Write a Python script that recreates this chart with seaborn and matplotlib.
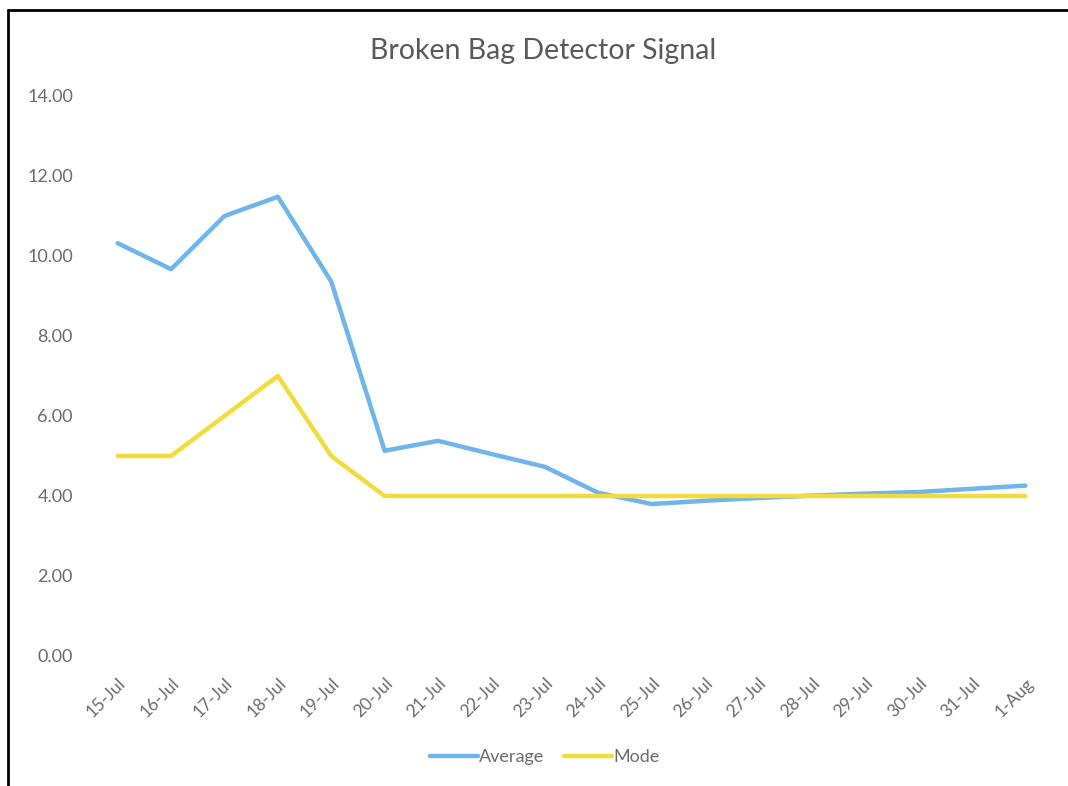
import matplotlib
matplotlib.use("Agg")
import matplotlib.pyplot as plt
import seaborn as sns
import pandas as pd
import numpy as np
from matplotlib.lines import Line2D

dates = ["15-Jul", "16-Jul", "17-Jul", "18-Jul", "19-Jul", "20-Jul", "21-Jul", "22-Jul",
         "23-Jul", "24-Jul", "25-Jul", "26-Jul", "27-Jul", "28-Jul", "29-Jul", "30-Jul",
         "31-Jul", "1-Aug"]
average = [10.32, 9.67, 11.0, 11.48, 9.36, 5.13, 5.38, 5.05, 4.73, 4.08, 3.80, 3.88,
           3.95, 4.01, 4.06, 4.10, 4.18, 4.26]
mode = [5, 5, 6, 7, 5, 4, 4, 4, 4, 4, 4, 4, 4, 4, 4, 4, 4, 4]
y_ticks = [0, 2, 4, 6, 8, 10, 12, 14]

series_names = ["Average", "Mode"]
colors = {"Average": "#6FB4EA", "Mode": "#F3DB3C"}

df = pd.concat([
    pd.DataFrame({"idx": np.arange(len(dates)), "value": average, "series": "Average"}),
    pd.DataFrame({"idx": np.arange(len(dates)), "value": mode, "series": "Mode"}),
])

sns.set_theme(style="white")
plt.rcParams["font.family"] = ["Lato", "DejaVu Sans"]
txt = "#6b6b6b"

fig = plt.figure(figsize=(10.68, 7.86), dpi=100)
W, H = 1068, 786
ax = fig.add_axes([91 / W, 1 - 656 / H, (1052 - 91) / W, (656 - 96) / H])

sns.lineplot(data=df, x="idx", y="value", hue="series", palette=colors,
             hue_order=series_names, linewidth=3.2, ax=ax, legend=False, sort=False)

ax.set_xlim(-0.5, len(dates) - 0.5)
ax.set_ylim(0, 14)
ax.set_yticks(y_ticks)
ax.set_yticklabels([f"{v:.2f}" for v in y_ticks], color=txt, fontsize=13)
ax.set_xticks(np.arange(len(dates)))
ax.set_xticklabels(dates, rotation=45, ha="right", rotation_mode="anchor",
                   color=txt, fontsize=12.5)
ax.tick_params(axis="both", length=0)
ax.tick_params(axis="x", pad=14)
ax.tick_params(axis="y", pad=13)
ax.set_xlabel("")
ax.set_ylabel("")
for s in ax.spines.values():
    s.set_visible(False)

fig.text(543 / W, 1 - 51 / H, "Broken Bag Detector Signal", ha="center", va="center",
         fontsize=20.5, color="#595959")

handles = [Line2D([0], [0], color=colors[n], lw=3.2) for n in series_names]
fig.legend(handles, series_names, loc="center", bbox_to_anchor=(545 / W, 1 - 757 / H),
           ncol=2, frameon=False, fontsize=13, handlelength=2.66, handletextpad=0.05,
           columnspacing=1.1, labelcolor=txt)

# outer frame (left and top visible)
fig.add_artist(Line2D([8 / W, 8 / W], [0, 1 - 10 / H], color="black", lw=2,
                      transform=fig.transFigure))
fig.add_artist(Line2D([8 / W, 1], [1 - 10 / H, 1 - 10 / H], color="black", lw=2,
                      transform=fig.transFigure))

fig.savefig("out.png", dpi=100, facecolor="white")
